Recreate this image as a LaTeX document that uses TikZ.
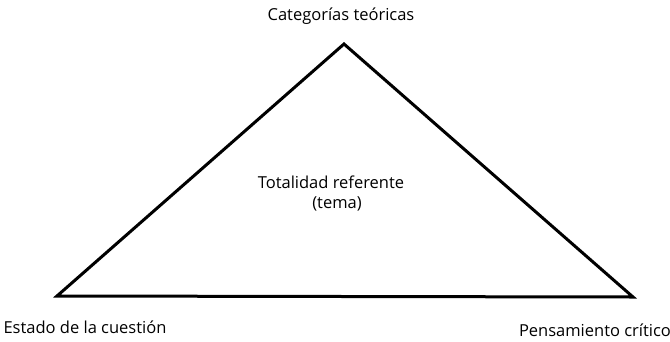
\documentclass[tikz,border=0pt]{standalone}
\usepackage{fontspec}
\setmainfont{Open Sans}
\begin{document}
\begin{tikzpicture}[x=1pt,y=-1pt,
  lbl/.style={font=\fontsize{16.5}{19}\selectfont, inner sep=0pt, anchor=center},
  edge/.style={draw=black, line width=3pt, line join=miter}]
\useasboundingbox (0,0) rectangle (670,341);
\fill[white] (0,0) rectangle (670,341);
\coordinate (apex) at (344,44);
\coordinate (left) at (57,296);
\coordinate (right) at (633,297);
\draw[edge] (apex) -- (right) -- (left) -- cycle;
\node[lbl] (top) at (341,16) {Categorías teóricas};
\node[lbl] (mid1) at (331,182) {Totalidad referente};
\node[lbl] (mid2) at (337,204) {(tema)};
\node[lbl] (bl) at (85,327) {Estado de la cuestión};
\node[lbl] (br) at (595,330) {Pensamiento crítico};
\end{tikzpicture}
\end{document}
